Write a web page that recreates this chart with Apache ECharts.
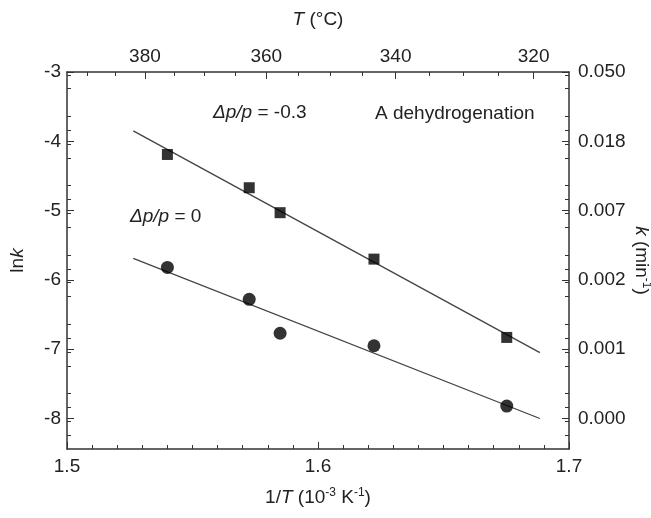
<!DOCTYPE html>
<html>
<head>
<meta charset="utf-8">
<script src="https://cdn.jsdelivr.net/npm/echarts@6/dist/echarts.min.js"></script>
<style>
  html, body { margin: 0; padding: 0; background: #fff; }
  #chart { width: 651px; height: 518px; }
</style>
</head>
<body>
<div id="chart"></div>
<script>
// 1/T in 10^-3 K^-1
const invT = [1.5400, 1.5726, 1.5849, 1.6223, 1.6752];
// ln k, dp/p = -0.3 (squares)
const lnkMinus03 = [-4.19, -4.67, -5.03, -5.70, -6.83];
// ln k, dp/p = 0 (circles)
const lnkZero = [-5.82, -6.28, -6.77, -6.95, -7.82];
// fitted lines, end points
const fitX = [1.5264, 1.6884];
const fitMinus03 = [-3.85, -7.05];
const fitZero = [-5.69, -8.00];
// left / right axis ticks (ln k)
const lnkTicks = [-3, -4, -5, -6, -7, -8];
// top axis temperatures (°C)
const tempMajor = [380, 360, 340, 320];
const tempMinor = [390, 385, 375, 370, 365, 355, 350, 345, 335, 330, 325];

const toInv = t => 1000 / (t + 273.15);
const pairs = (xs, ys) => xs.map((x, i) => [x, ys[i]]);

const axisColor = '#333';
const txt = '#222';
const font = 'Liberation Sans, Arial, sans-serif';
const fs = 19;
const labelStyle = { color: txt, fontSize: fs, fontFamily: font };
const italic = { fontStyle: 'italic', fontSize: fs, fontFamily: font, color: txt };
const sup = { fontSize: 12, fontFamily: font, color: txt, verticalAlign: 'top', lineHeight: 22 };

const chart = echarts.init(document.getElementById('chart'));
const option = {
  backgroundColor: '#fff',
  animation: false,
  grid: { left: 67, top: 72, width: 502, height: 377, containLabel: false, outerBoundsMode: 'none' },
  xAxis: [
    {
      type: 'value', position: 'bottom', min: 1.5, max: 1.7, interval: 0.1,
      axisLine: { lineStyle: { color: axisColor, width: 1.5 } },
      axisTick: { inside: true, length: 7, lineStyle: { color: axisColor } },
      minorTick: { show: true, splitNumber: 10, length: 4, lineStyle: { color: axisColor } },
      splitLine: { show: false },
      axisLabel: Object.assign({ margin: 8, formatter: v => v.toFixed(1) }, labelStyle),
      name: '1/{i|T} (10{sup|-3} K{sup|-1})', nameLocation: 'middle', nameGap: 38,
      nameTextStyle: { color: txt, fontSize: fs, fontFamily: font, lineHeight: 22, rich: { i: italic, sup: sup } }
    },
    {
      type: 'value', position: 'top', min: 1.5, max: 1.7,
      axisLine: { lineStyle: { color: axisColor, width: 1.5 } },
      axisTick: { inside: true, length: 7, lineStyle: { color: axisColor }, customValues: tempMajor.map(toInv) },
      splitLine: { show: false },
      axisLabel: Object.assign({
        margin: 6,
        customValues: tempMajor.map(toInv),
        formatter: v => String(Math.round(1000 / v - 273.15))
      }, labelStyle),
      name: '{i|T} (°C)', nameLocation: 'middle', nameGap: 43,
      nameTextStyle: { color: txt, fontSize: fs, fontFamily: font, rich: { i: italic } }
    },
    {
      type: 'value', position: 'top', min: 1.5, max: 1.7,
      axisLine: { show: false },
      axisTick: { inside: true, length: 4, lineStyle: { color: axisColor }, customValues: tempMinor.map(toInv) },
      axisLabel: { show: false },
      splitLine: { show: false }
    }
  ],
  yAxis: [
    {
      type: 'value', position: 'left', min: -8.44, max: -3, interval: 1,
      axisLine: { show: true, lineStyle: { color: axisColor, width: 1.5 } },
      axisTick: { inside: true, length: 7, lineStyle: { color: axisColor }, customValues: lnkTicks },
      minorTick: { show: true, splitNumber: 5, length: 4, lineStyle: { color: axisColor } },
      splitLine: { show: false },
      axisLabel: Object.assign({ margin: 6, customValues: lnkTicks, formatter: v => String(v) }, labelStyle),
      name: 'ln{i|k}', nameLocation: 'middle', nameGap: 40, nameRotate: 90,
      nameTextStyle: { color: txt, fontSize: fs, fontFamily: font, rich: { i: italic } }
    },
    {
      type: 'value', position: 'right', min: -8.44, max: -3, interval: 1,
      axisLine: { show: true, lineStyle: { color: axisColor, width: 1.5 } },
      axisTick: { inside: true, length: 7, lineStyle: { color: axisColor }, customValues: lnkTicks },
      minorTick: { show: true, splitNumber: 5, length: 4, lineStyle: { color: axisColor } },
      splitLine: { show: false },
      axisLabel: Object.assign({
        margin: 9, customValues: lnkTicks,
        formatter: v => Math.exp(v).toFixed(3)
      }, labelStyle),
      name: '{i|k} (min{sup|-1})', nameLocation: 'middle', nameGap: 61, nameRotate: -90,
      nameMoveOverlap: false,
      nameTextStyle: { color: txt, fontSize: fs, fontFamily: font, lineHeight: 22, rich: { i: italic, sup: sup } }
    }
  ],
  series: [
    {
      type: 'line', data: pairs(fitX, fitMinus03), symbol: 'none',
      lineStyle: { color: '#444', width: 1.3 }, z: 1
    },
    {
      type: 'line', data: pairs(fitX, fitZero), symbol: 'none',
      lineStyle: { color: '#444', width: 1.3 }, z: 1
    },
    {
      type: 'scatter', data: pairs(invT, lnkMinus03), symbol: 'rect', symbolSize: 11,
      itemStyle: { color: '#000' }, z: 3
    },
    {
      type: 'scatter', data: pairs(invT, lnkZero), symbol: 'circle', symbolSize: 13,
      itemStyle: { color: '#000' }, z: 3
    }
  ],
  graphic: [
    {
      type: 'text', x: 213, y: 113,
      style: {
        text: '{i|Δp/p} = -0.3', fill: txt, fontSize: fs, fontFamily: font, verticalAlign: 'middle',
        rich: { i: { fontStyle: 'italic', fontSize: fs, fontFamily: font, fill: txt } }
      }
    },
    {
      type: 'text', x: 375, y: 114,
      style: { text: 'A dehydrogenation', fill: txt, fontSize: fs, fontFamily: font, verticalAlign: 'middle' }
    },
    {
      type: 'text', x: 130, y: 217,
      style: {
        text: '{i|Δp/p} = 0', fill: txt, fontSize: fs, fontFamily: font, verticalAlign: 'middle',
        rich: { i: { fontStyle: 'italic', fontSize: fs, fontFamily: font, fill: txt } }
      }
    }
  ]
};
chart.setOption(option);
window.addEventListener('resize', () => chart.resize());
</script>
</body>
</html>
